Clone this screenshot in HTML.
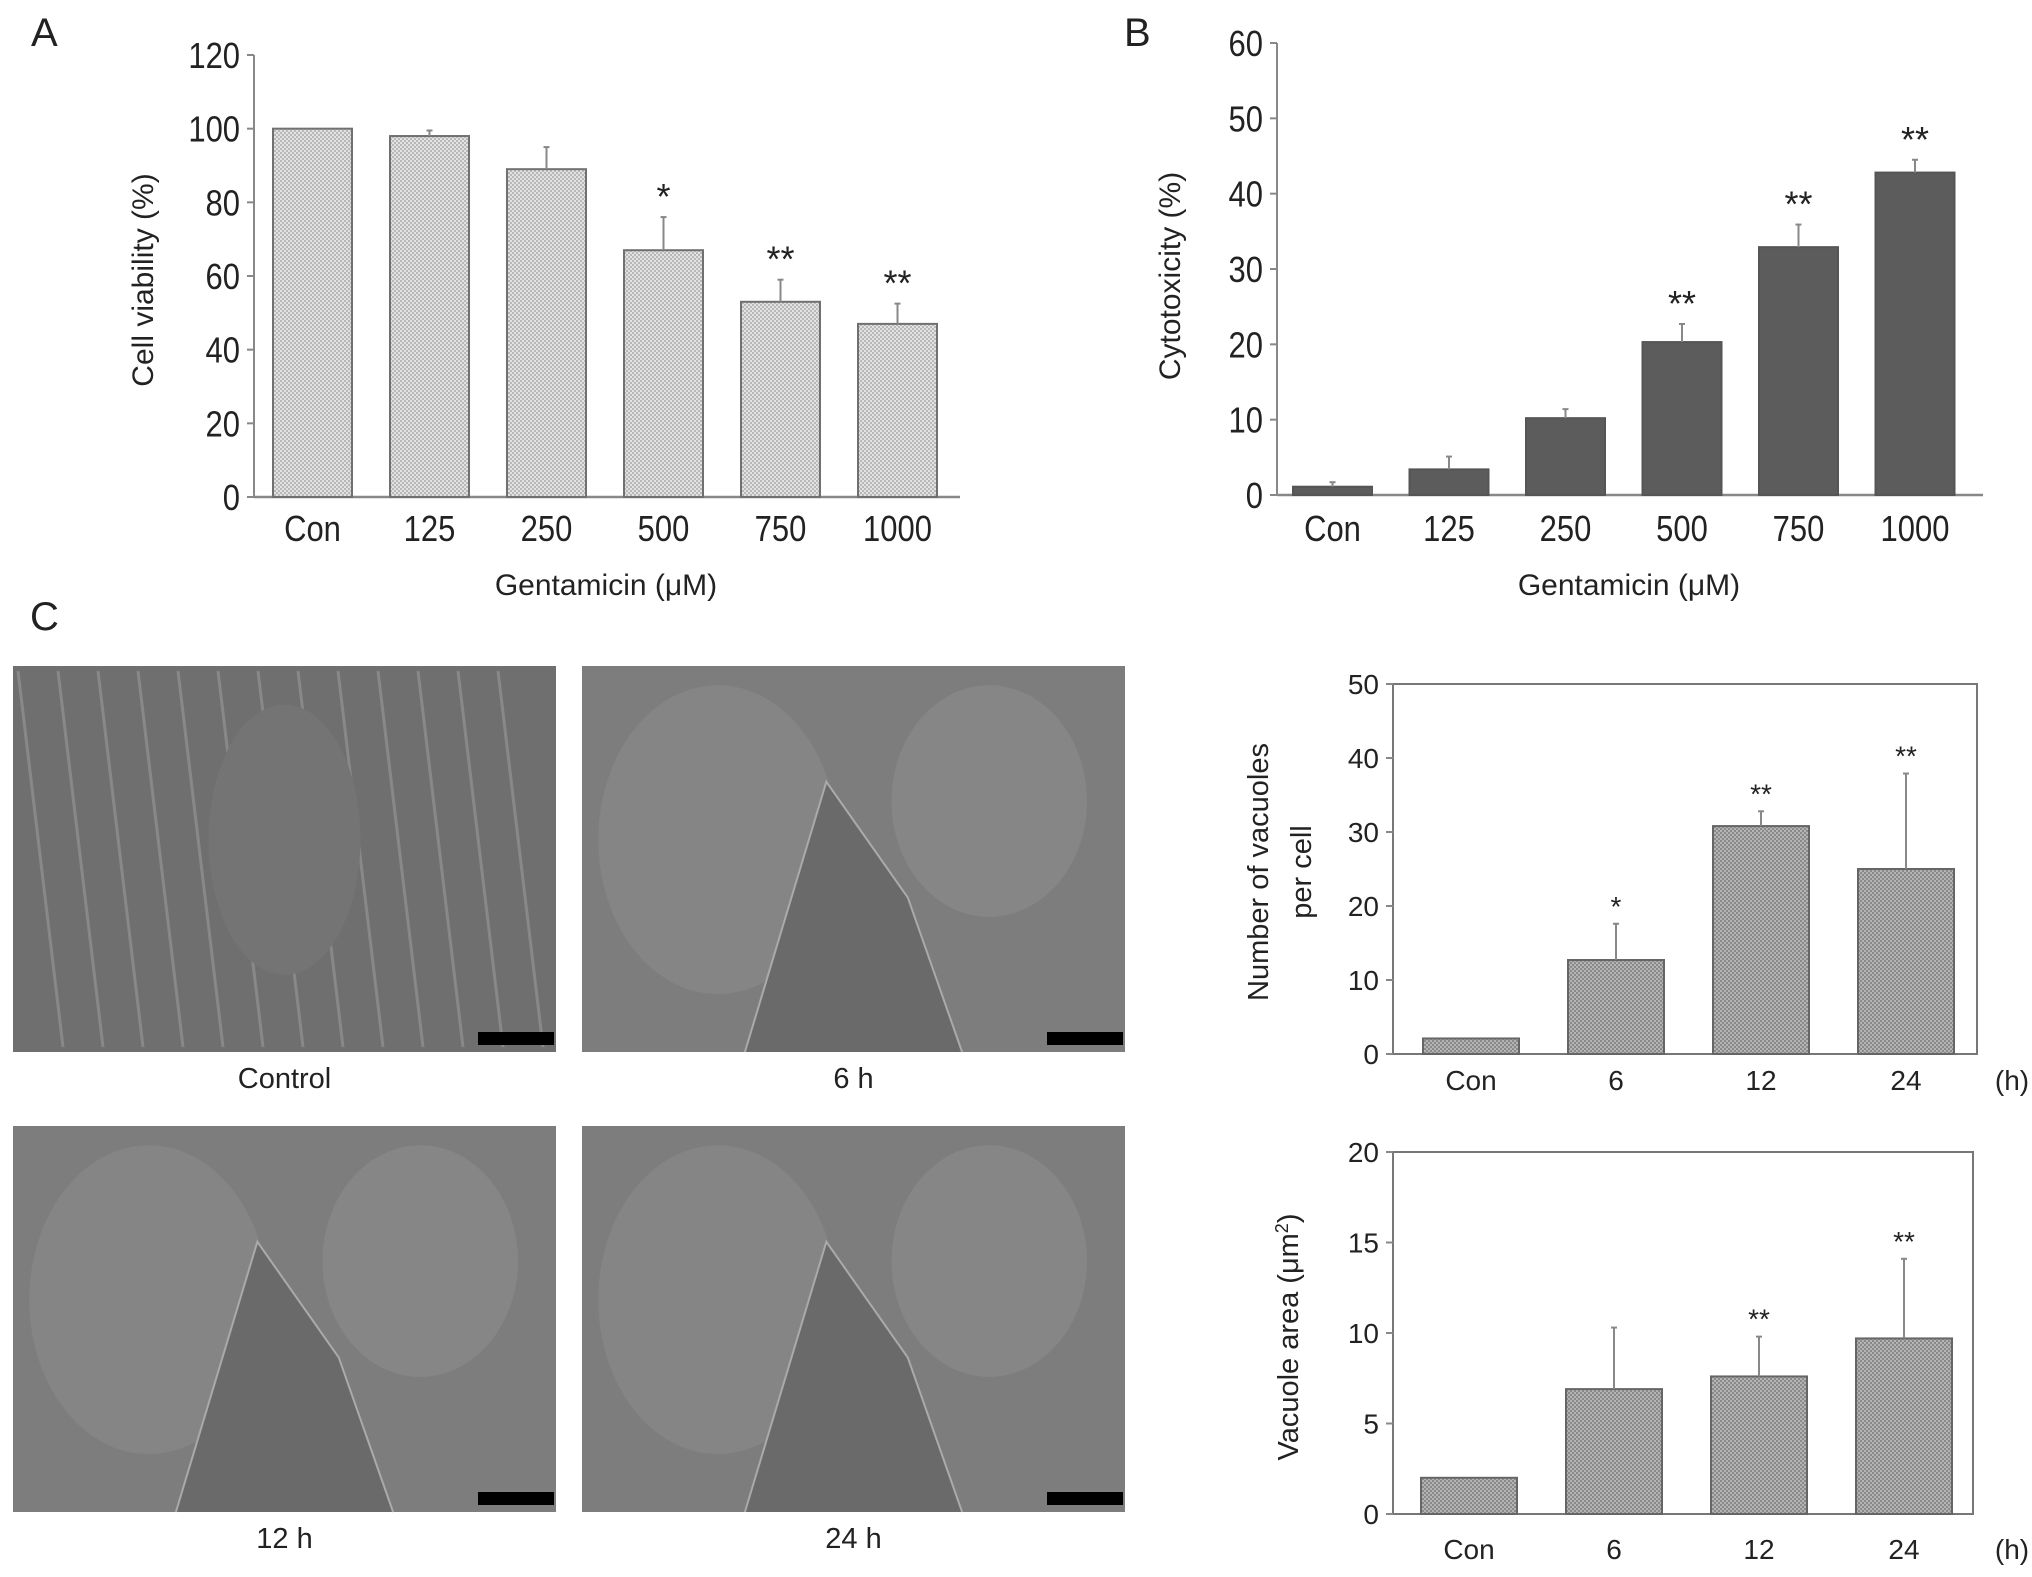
<!DOCTYPE html>
<html><head><meta charset="utf-8"><style>
html,body{margin:0;padding:0;background:#fff}
svg{display:block}
.t{font-family:"Liberation Sans",Arial,sans-serif;fill:#222}
</style></head><body>
<svg id="fig" width="2032" height="1577" viewBox="0 0 2032 1577" xmlns="http://www.w3.org/2000/svg">
<defs>
<pattern id="pa" width="4" height="4" patternUnits="userSpaceOnUse"><rect width="4" height="4" fill="#e2e2e2"/><rect width="2" height="2" fill="#b8b8b8"/><rect x="2" y="2" width="2" height="2" fill="#b8b8b8"/></pattern>
<pattern id="pc" width="4" height="4" patternUnits="userSpaceOnUse"><rect width="4" height="4" fill="#b4b4b4"/><rect width="2" height="2" fill="#8a8a8a"/><rect x="2" y="2" width="2" height="2" fill="#8a8a8a"/></pattern>
</defs>
<g id="layer"></g>
</svg>
<script>
// Panel A
const catA = ["Con","125","250","500","750","1000"];
const valA = [100, 98, 89, 67, 53, 47];
const errA = [100, 99.5, 95, 76, 59, 52.5];
const sigA = ["", "", "", "*", "**", "**"];
const ticksA = [0,20,40,60,80,100,120];
// Panel B
const catB = ["Con","125","250","500","750","1000"];
const valB = [1.1, 3.4, 10.2, 20.3, 32.9, 42.8];
const errB = [1.7, 5.1, 11.4, 22.7, 35.9, 44.5];
const sigB = ["", "", "", "**", "**", "**"];
const ticksB = [0,10,20,30,40,50,60];
// Panel C top
const catC = ["Con","6","12","24"];
const valC1 = [2.1, 12.7, 30.8, 25.0];
const errC1 = [2.1, 17.6, 32.8, 37.9];
const sigC1 = ["", "*", "**", "**"];
const ticksC1 = [0,10,20,30,40,50];
// Panel C bottom
const valC2 = [2.0, 6.9, 7.6, 9.7];
const errC2 = [2.0, 10.3, 9.8, 14.1];
const sigC2 = ["", "", "**", "**"];
const ticksC2 = [0,5,10,15,20];

const NS = "http://www.w3.org/2000/svg";
const layer = document.getElementById('layer');
function el(tag, attrs, parent){
  const e = document.createElementNS(NS, tag);
  for (const k in attrs) e.setAttribute(k, attrs[k]);
  (parent||layer).appendChild(e);
  return e;
}
function txt(s, x, y, size, anchor, parent, extra){
  const e = el('text', {x:x, y:y, 'font-size':size, 'text-anchor':anchor||'middle', class:'t'}, parent);
  if (extra) for (const k in extra) e.setAttribute(k, extra[k]);
  e.textContent = s;
  return e;
}

function chart(o){
  const g = el('g', {});
  
  
  const ymax = o.ticks[o.ticks.length-1];
  const Y = v => o.y0 - (v/ymax)*(o.y0 - o.y1);
  const X = i => o.x0 + o.firstOff + i*o.step;
  if (o.box){
    const b = el('rect', {x:o.x0, y:o.y1, width:o.x1-o.x0, height:o.y0-o.y1, fill:'none', stroke:'#777', 'stroke-width':2}, g);
    
    
  } else {
    const ya = el('line', {x1:o.x0, y1:o.y1, x2:o.x0, y2:o.y0, stroke:'#888', 'stroke-width':2}, g);
    
    
    const xa = el('line', {x1:o.x0, y1:o.y0, x2:o.x1, y2:o.y0, stroke:'#888', 'stroke-width':2.5}, g);
    
    
  }
  o.ticks.forEach(t => {
    const y = Y(t);
    el('line', {x1:o.x0-7, y1:y, x2:o.x0, y2:y, stroke:'#888', 'stroke-width':2}, g);
    const tl = txt(String(t), o.x0-14, y+o.fs*0.36, o.fs, 'end', g, o.cond?{transform:`translate(${o.x0-14},0) scale(0.86,1) translate(${-(o.x0-14)},0)`}:null);
    
    
  });
  o.cats.forEach((c, i) => {
    const x = X(i);
    const r = el('rect', {x:x, y:Y(o.vals[i]), width:o.bw, height:o.y0-Y(o.vals[i]), fill:o.fill, stroke:o.stroke, 'stroke-width':2}, g);
    
    
    const cx = x + o.bw/2;
    if (o.errs[i] > o.vals[i]+0.05){
      const eb = el('line', {x1:cx, y1:Y(o.vals[i]), x2:cx, y2:Y(o.errs[i]), stroke:'#888', 'stroke-width':2}, g);
      
      
      el('line', {x1:cx-3, y1:Y(o.errs[i]), x2:cx+3, y2:Y(o.errs[i]), stroke:'#888', 'stroke-width':2}, g);
    }
    if (o.sig[i]){
      const s = txt(o.sig[i], cx, Y(o.errs[i])-8, o.fs*1.0, 'middle', g, {fill:'#555'});
      
      
    }
    const tl = txt(c, cx, o.labY, o.fs, 'middle', g, o.cond?{transform:`translate(${cx},0) scale(0.86,1) translate(${-cx},0)`}:null);
    
    
  });
}

chart({name:'panel-a-chart', x0:254, x1:960, y0:497, y1:55, firstOff:19, step:117, bw:79,
  cats:catA, vals:valA, errs:errA, sig:sigA, ticks:ticksA, fill:'url(#pa)', stroke:'#707070', fs:36, labY:541, cond:true});
chart({name:'panel-b-chart', x0:1277, x1:1983, y0:495, y1:43, firstOff:16, step:116.5, bw:79,
  cats:catB, vals:valB, errs:errB, sig:sigB, ticks:ticksB, fill:'#5c5c5c', stroke:'#555', fs:36, labY:541, cond:true});
chart({name:'vacuole-count-chart', x0:1393, x1:1977, y0:1054, y1:684, box:true, firstOff:30, step:145, bw:96,
  cats:catC, vals:valC1, errs:errC1, sig:sigC1, ticks:ticksC1, fill:'url(#pc)', stroke:'#666', fs:28, labY:1090});
chart({name:'vacuole-area-chart', x0:1393, x1:1973, y0:1514, y1:1152, box:true, firstOff:28, step:145, bw:96,
  cats:catC, vals:valC2, errs:errC2, sig:sigC2, ticks:ticksC2, fill:'url(#pc)', stroke:'#666', fs:28, labY:1559});

// titles and labels
let e;
e = txt('A', 31, 46, 40, 'start');  
e = txt('B', 1124, 46, 40, 'start');  
e = txt('C', 30, 630, 40, 'start');  
e = txt('Gentamicin (μM)', 606, 595, 30);  
e = txt('Gentamicin (μM)', 1629, 595, 30);  
e = txt('Cell viability (%)', 0, 0, 30, 'middle', null, {transform:'translate(153,280) rotate(-90)'});  
e = txt('Cytotoxicity (%)', 0, 0, 30, 'middle', null, {transform:'translate(1180,276) rotate(-90)'});  
e = txt('Number of vacuoles', 0, 0, 29, 'middle', null, {transform:'translate(1268,872) rotate(-90)'});  
e = txt('per cell', 0, 0, 29, 'middle', null, {transform:'translate(1311,872) rotate(-90)'});  
e = el('text', {class:'t','font-size':29,'text-anchor':'middle',transform:'translate(1298,1337) rotate(-90)'});
e.innerHTML = 'Vacuole area (μm<tspan dy="-10" font-size="18">2</tspan><tspan dy="10">)</tspan>';
 
e = txt('(h)', 2012, 1090, 28);  
e = txt('(h)', 2012, 1559, 28);  

// micrographs
const imgs = [
 {n:'control', x:13, y:666, lbl:'Control', busy:true},
 {n:'6h', x:582, y:666, lbl:'6 h'},
 {n:'12h', x:13, y:1126, lbl:'12 h'},
 {n:'24h', x:582, y:1126, lbl:'24 h'}
];
imgs.forEach(m => {
  const g = el('g', {});
  
  
  const W = 543, H = 386;
  el('rect', {x:m.x, y:m.y, width:W, height:H, fill: m.busy ? '#6f6f6f' : '#7d7d7d'}, g);
  if (!m.busy){
    el('ellipse', {cx:m.x+W*0.25, cy:m.y+H*0.45, rx:W*0.22, ry:H*0.4, fill:'#858585'}, g);
    el('ellipse', {cx:m.x+W*0.75, cy:m.y+H*0.35, rx:W*0.18, ry:H*0.3, fill:'#868686'}, g);
    el('path', {d:`M${m.x+W*0.3} ${m.y+H} L${m.x+W*0.45} ${m.y+H*0.3} L${m.x+W*0.6} ${m.y+H*0.6} L${m.x+W*0.7} ${m.y+H}`, fill:'#6a6a6a', stroke:'#aaa','stroke-width':2}, g);
  } else {
    for (let k=0;k<13;k++){
      el('line', {x1:m.x+k*40+5, y1:m.y+5, x2:m.x+k*40+50, y2:m.y+H-5, stroke:'#9a9a9a','stroke-width':3,opacity:0.6}, g);
    }
    el('ellipse', {cx:m.x+W*0.5, cy:m.y+H*0.45, rx:W*0.14, ry:H*0.35, fill:'#747474'}, g);
  }
  el('rect', {x:m.x+W-78, y:m.y+H-20, width:76, height:13, fill:'#000'}, g);
  const t = txt(m.lbl, m.x+W/2, m.y+H+36, 29);
  
  
});
</script>
</body></html>
